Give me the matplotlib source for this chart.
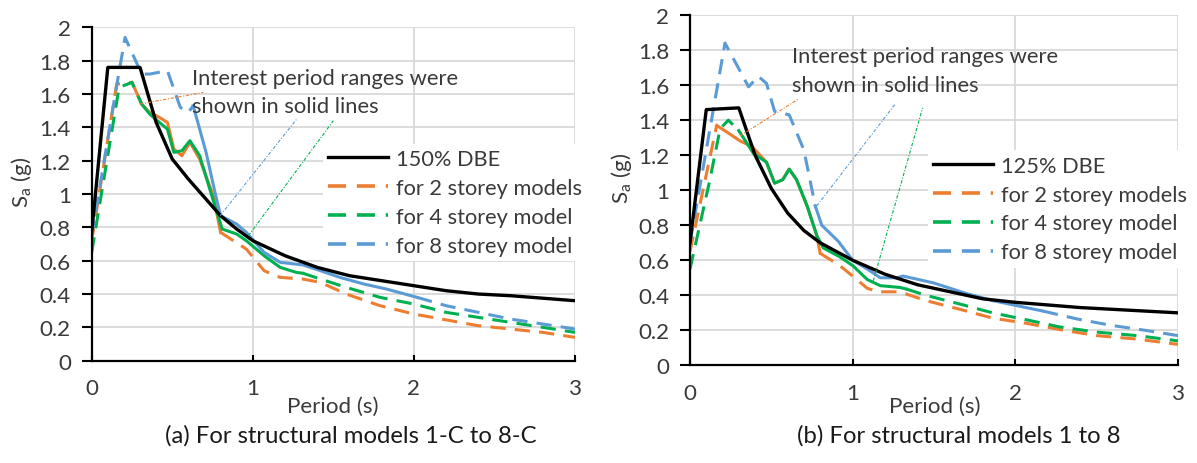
import matplotlib

matplotlib.use("Agg")

import matplotlib.pyplot as plt
import numpy as np

plt.rcParams["font.family"] = ["Lato", "DejaVu Sans"]

W, H = 1197, 464

# ---- panel (a): 150% DBE, structural models 1-C to 8-C ----
t_dbe_a = [0, 0.1, 0.3, 0.4, 0.5, 0.6, 0.7, 0.8, 0.9, 1.0, 1.2, 1.4, 1.6, 1.8, 2.0, 2.2, 2.4, 2.6, 2.8, 3.0]
sa_dbe_a = [0.77, 1.76, 1.76, 1.43, 1.21, 1.09, 0.98, 0.87, 0.79, 0.72, 0.63, 0.56, 0.51, 0.48, 0.45,
            0.42, 0.40, 0.39, 0.375, 0.36]

t_s2_a = [0, 0.155, 0.25, 0.31, 0.36, 0.42, 0.47, 0.51, 0.56, 0.61, 0.67, 0.755, 0.80, 0.96, 1.07, 1.17,
          1.31, 1.42, 1.58, 1.79, 2.0, 2.2, 2.4, 2.6, 2.8, 3.0]
sa_s2_a = [0.72, 1.66, 1.67, 1.54, 1.49, 1.46, 1.43, 1.27, 1.23, 1.31, 1.21, 0.99, 0.77, 0.67, 0.54, 0.50,
           0.49, 0.47, 0.40, 0.33, 0.28, 0.245, 0.21, 0.19, 0.17, 0.14]
solid_s2_a = (0.25, 0.80)

t_s4_a = [0, 0.17, 0.25, 0.31, 0.36, 0.42, 0.47, 0.51, 0.56, 0.61, 0.67, 0.755, 0.81, 0.90, 0.96, 1.07,
          1.17, 1.27, 1.31, 1.42, 1.58, 1.79, 2.0, 2.2, 2.4, 2.6, 2.8, 3.0]
sa_s4_a = [0.65, 1.64, 1.67, 1.54, 1.48, 1.43, 1.39, 1.25, 1.26, 1.32, 1.23, 0.96, 0.79, 0.76, 0.72, 0.63,
           0.56, 0.53, 0.525, 0.49, 0.44, 0.38, 0.34, 0.29, 0.26, 0.23, 0.20, 0.17]
solid_s4_a = (0.31, 1.31)

t_s8_a = [0, 0.155, 0.207, 0.31, 0.36, 0.47, 0.55, 0.60, 0.63, 0.71, 0.77, 0.80, 0.90, 0.96, 1.07, 1.17,
          1.31, 1.42, 1.54, 1.69, 1.83, 2.02, 2.2, 2.4, 2.6, 2.8, 3.0]
sa_s8_a = [0.75, 1.65, 1.94, 1.72, 1.72, 1.74, 1.52, 1.49, 1.53, 1.25, 0.99, 0.87, 0.82, 0.77, 0.65, 0.59,
           0.575, 0.54, 0.50, 0.46, 0.43, 0.38, 0.33, 0.29, 0.25, 0.22, 0.19]
solid_s8_a = (0.63, 2.02)

# leader lines from the note to the curves: (t0, t1), (sa0, sa1)
lead_s2_a = ([0.30, 0.693], [1.54, 1.61])
lead_s8_a = ([0.797, 1.273], [0.87, 1.45])
lead_s4_a = ([0.973, 1.50], [0.75, 1.44])

# ---- panel (b): 125% DBE, structural models 1 to 8 ----
t_dbe_b = [0, 0.1, 0.3, 0.4, 0.5, 0.6, 0.7, 0.8, 0.9, 1.0, 1.2, 1.4, 1.6, 1.8, 2.0, 2.2, 2.4, 2.6, 2.8, 3.0]
sa_dbe_b = [0.70, 1.46, 1.47, 1.20, 1.01, 0.87, 0.77, 0.70, 0.65, 0.60, 0.52, 0.46, 0.42, 0.38, 0.36,
            0.345, 0.33, 0.32, 0.31, 0.30]

t_s2_b = [0, 0.164, 0.246, 0.31, 0.38, 0.43, 0.47, 0.52, 0.57, 0.61, 0.655, 0.72, 0.78, 0.80, 0.92, 1.0,
          1.09, 1.16, 1.29, 1.45, 1.66, 1.86, 2.07, 2.3, 2.5, 2.75, 3.0]
sa_s2_b = [0.65, 1.37, 1.32, 1.28, 1.25, 1.20, 1.16, 1.04, 1.06, 1.12, 1.06, 0.91, 0.74, 0.64, 0.57, 0.51,
           0.44, 0.42, 0.42, 0.37, 0.32, 0.27, 0.24, 0.20, 0.17, 0.15, 0.12]
solid_s2_b = (0.164, 0.80)

t_s4_b = [0, 0.12, 0.185, 0.236, 0.30, 0.39, 0.47, 0.52, 0.57, 0.61, 0.655, 0.72, 0.78, 0.82, 0.92, 1.0,
          1.09, 1.17, 1.29, 1.33, 1.45, 1.66, 1.86, 2.07, 2.27, 2.5, 2.75, 3.0]
sa_s4_b = [0.55, 1.05, 1.35, 1.40, 1.34, 1.21, 1.16, 1.04, 1.06, 1.12, 1.06, 0.91, 0.74, 0.67, 0.62, 0.57,
           0.49, 0.455, 0.445, 0.436, 0.40, 0.35, 0.30, 0.26, 0.22, 0.19, 0.17, 0.14]
solid_s4_b = (0.30, 1.33)

t_s8_b = [0, 0.215, 0.36, 0.42, 0.47, 0.52, 0.61, 0.70, 0.77, 0.81, 0.91, 1.0, 1.09, 1.17, 1.27, 1.31,
          1.50, 1.70, 1.86, 2.17, 2.38, 2.58, 2.8, 3.0]
sa_s8_b = [0.70, 1.84, 1.59, 1.65, 1.61, 1.45, 1.43, 1.23, 0.91, 0.80, 0.71, 0.60, 0.55, 0.50, 0.50, 0.51,
           0.47, 0.41, 0.37, 0.31, 0.265, 0.23, 0.20, 0.17]
solid_s8_b = (0.77, 2.17)

lead_s2_b = ([0.307, 0.666], [1.31, 1.52])
lead_s8_b = ([0.779, 1.26], [0.91, 1.49])
lead_s4_b = ([1.127, 1.43], [0.483, 1.47])

labels_a = ["150% DBE", "for 2 storey models", "for 4 storey model", "for 8 storey model"]
labels_b = ["125% DBE", "for 2 storey models", "for 4 storey model", "for 8 storey model"]
note_lines = ["Interest period ranges were", "shown in solid lines"]
yticklabels = ["0", "0.2", "0.4", "0.6", "0.8", "1", "1.2", "1.4", "1.6", "1.8", "2"]

ORANGE = "#ED7D31"
GREEN = "#00B050"
BLUE = "#5B9BD5"
GRID = "#D9D9D9"
TEXT = "#3a3a3a"
DASH = (5, 3)

fig = plt.figure(figsize=(W / 100, H / 100), dpi=100)
renderer = fig.canvas.get_renderer()


def px(x, y):
    return x / W, 1 - y / H


def measure(text, size):
    t = fig.text(0, 0, text, fontsize=size)
    bb = t.get_window_extent(renderer)
    t.remove()
    return bb.width, bb.height


def size_for(text, target_px):
    w, _ = measure(text, 10)
    return 10 * target_px / w


# font sizes fitted to the text widths in the reference
fs_note = size_for(note_lines[0], 267)
fs_leg = size_for(labels_a[1], 187)
fs_lab = size_for("Period (s)", 92)
fs_cap = size_for("(a) For structural models 1-", 283)


def draw_series(ax, t, sa, solid, color, label):
    t = np.asarray(t)
    sa = np.asarray(sa)
    lo, hi = solid
    before = t <= lo
    mid = (t >= lo) & (t <= hi)
    after = t >= hi
    ax.plot(t[before], sa[before], color=color, lw=2.2, dashes=DASH)
    ax.plot(t[after], sa[after], color=color, lw=2.2, dashes=DASH)
    ax.plot(t[mid], sa[mid], color=color, lw=2.2, solid_joinstyle="round")
    return ax.plot([], [], color=color, lw=2.6, dashes=DASH, label=label)[0]


def style_axes(ax):
    ax.set_xlim(0, 3)
    ax.set_ylim(0, 2)
    ax.set_xticks([0, 1, 2, 3])
    ax.set_yticks(np.arange(0, 2.01, 0.2))
    ax.set_yticklabels(yticklabels)
    ax.grid(True, color=GRID, lw=1.3)
    ax.set_axisbelow(True)
    for side in ("top", "right"):
        ax.spines[side].set_visible(False)
    for side in ("left", "bottom"):
        ax.spines[side].set_linewidth(1.6)
        ax.spines[side].set_color("black")
    ax.tick_params(axis="x", direction="in", length=4, width=1.5, pad=12.5, labelsize=fs_lab,
                   labelcolor=TEXT, color="black")
    ax.tick_params(axis="y", direction="out", length=7, width=1.5, pad=8, labelsize=fs_lab,
                   labelcolor=TEXT, color="black")


def panel(ax, t_dbe, sa_dbe, series, leads, labels, note_xy, legend_xy, ylab_xy, xlab_xy, cap_xy, caption):
    style_axes(ax)
    handles = []
    for (t, sa, solid, color), label in zip(series, labels[1:]):
        handles.append(draw_series(ax, t, sa, solid, color, label))
    h_dbe, = ax.plot(t_dbe, sa_dbe, color="black", lw=2.4, label=labels[0])
    for (lt, ls), color in zip(leads, [ORANGE, BLUE, GREEN]):
        ax.plot(lt, ls, color=color, lw=0.8, dashes=(3, 1.5, 1, 1.5))

    # note, two lines placed at their baselines
    nx, ny1, ny2 = note_xy
    fig.text(*px(nx, ny1), note_lines[0], fontsize=fs_note, ha="left", va="baseline", color=TEXT)
    fig.text(*px(nx, ny2), note_lines[1], fontsize=fs_note, ha="left", va="baseline", color=TEXT)

    # legend placed by handle start and first-row centre
    fs_px = fs_leg * 100 / 72
    _, h_txt = measure(labels[1], fs_leg)
    pitch = 28.9
    bpad = 0.25
    hx, row1 = legend_xy
    left = hx - bpad * fs_px
    top = row1 - h_txt / 2 - bpad * fs_px
    leg = ax.legend([h_dbe] + handles, labels, loc="upper left", bbox_to_anchor=px(left, top),
                    bbox_transform=fig.transFigure, fontsize=fs_leg, frameon=True, facecolor="white",
                    edgecolor="none", framealpha=1, fancybox=False, borderpad=bpad,
                    handlelength=60 / fs_px, handletextpad=8 / fs_px,
                    labelspacing=max(0.0, (pitch - h_txt) / fs_px), borderaxespad=0)
    for txt in leg.get_texts():
        txt.set_color(TEXT)

    fig.text(*px(*ylab_xy), "S$_\\mathregular{a}$ (g)", rotation=90, ha="center", va="center",
             fontsize=fs_lab, color=TEXT)
    fig.text(*px(*xlab_xy), "Period (s)", ha="center", va="baseline", fontsize=fs_lab, color=TEXT)
    fig.text(*px(*cap_xy), caption, ha="left", va="baseline", fontsize=fs_cap, color="#1a1a1a")


ax_a = fig.add_axes([91.7 / W, 1 - 361.7 / H, (575 - 91.7) / W, (361.7 - 28.4) / H])
ax_b = fig.add_axes([690 / W, 1 - 366.4 / H, 488 / W, 350.4 / H])

panel(ax_a, t_dbe_a, sa_dbe_a,
      [(t_s2_a, sa_s2_a, solid_s2_a, ORANGE), (t_s4_a, sa_s4_a, solid_s4_a, GREEN),
       (t_s8_a, sa_s8_a, solid_s8_a, BLUE)],
      [lead_s2_a, lead_s8_a, lead_s4_a], labels_a,
      note_xy=(192, 85, 113.3), legend_xy=(328, 160), ylab_xy=(22, 182), xlab_xy=(333, 413.3),
      cap_xy=(165, 442.7), caption="(a) For structural models 1-C to 8-C")

panel(ax_b, t_dbe_b, sa_dbe_b,
      [(t_s2_b, sa_s2_b, solid_s2_b, ORANGE), (t_s4_b, sa_s4_b, solid_s4_b, GREEN),
       (t_s8_b, sa_s8_b, solid_s8_b, BLUE)],
      [lead_s2_b, lead_s8_b, lead_s4_b], labels_b,
      note_xy=(792, 63.3, 91.7), legend_xy=(933, 166.7), ylab_xy=(621, 178), xlab_xy=(935, 413.3),
      cap_xy=(797, 442.7), caption="(b) For structural models 1 to 8")

fig.savefig("out.png", dpi=100)
